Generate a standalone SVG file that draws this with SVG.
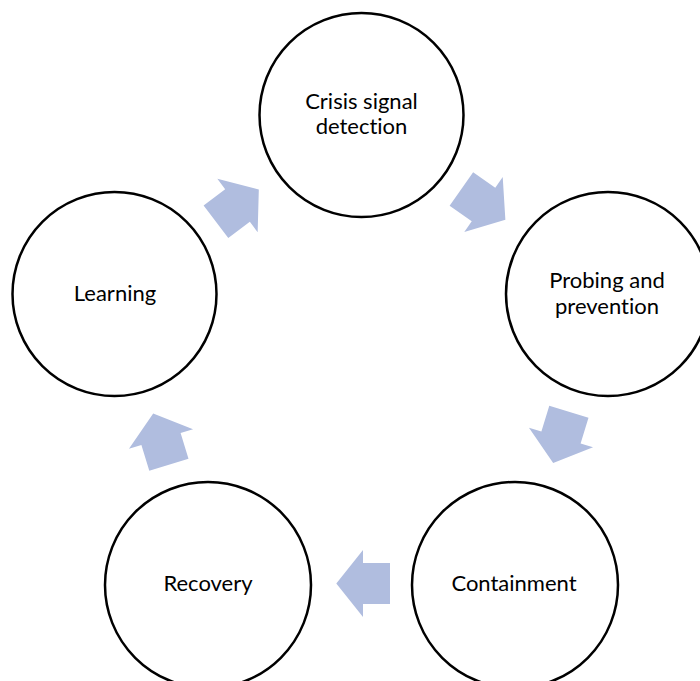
<svg xmlns="http://www.w3.org/2000/svg" width="700" height="681" viewBox="0 0 700 681">
<style>
.node circle{fill:#ffffff;stroke:#000000;stroke-width:2.5}
.node text{font-family:Lato,"Liberation Sans",Arial,sans-serif;font-size:22px;fill:#000000;text-anchor:middle;font-variant-ligatures:none}
.arr{fill:#b0bddf}
</style>
<defs>
<polygon id="blk" points="-27,-20.5 0,-20.5 0,-33.5 26.7,0 0,33.5 0,20.5 -27,20.5"/>
</defs>
<rect width="700" height="681" fill="#ffffff"/>
<g id="connectors">
<use href="#blk" class="arr" transform="translate(237.5,205.5) rotate(-37)"/>
<use href="#blk" class="arr" transform="translate(483.5,204.5) rotate(35)"/>
<use href="#blk" class="arr" transform="translate(561,437.5) rotate(107)"/>
<use href="#blk" class="arr" transform="translate(161,439) rotate(-107)"/>
<use href="#blk" class="arr" transform="translate(363,583.5) rotate(180)"/>
</g>
<g id="node-crisis" class="node">
<circle cx="361.5" cy="115" r="102"/>
<text x="361.5" y="109">Crisis signal</text>
<text x="361.5" y="134">detection</text>
</g>
<g id="node-probing" class="node">
<circle cx="608" cy="294" r="102"/>
<text x="607" y="288">Probing and</text>
<text x="607" y="314">prevention</text>
</g>
<g id="node-containment" class="node">
<circle cx="515" cy="585" r="103"/>
<text x="514" y="591">Containment</text>
</g>
<g id="node-recovery" class="node">
<circle cx="208" cy="585" r="103"/>
<text x="208" y="591">Recovery</text>
</g>
<g id="node-learning" class="node">
<circle cx="114.5" cy="294" r="102"/>
<text x="115" y="301">Learning</text>
</g>
</svg>
